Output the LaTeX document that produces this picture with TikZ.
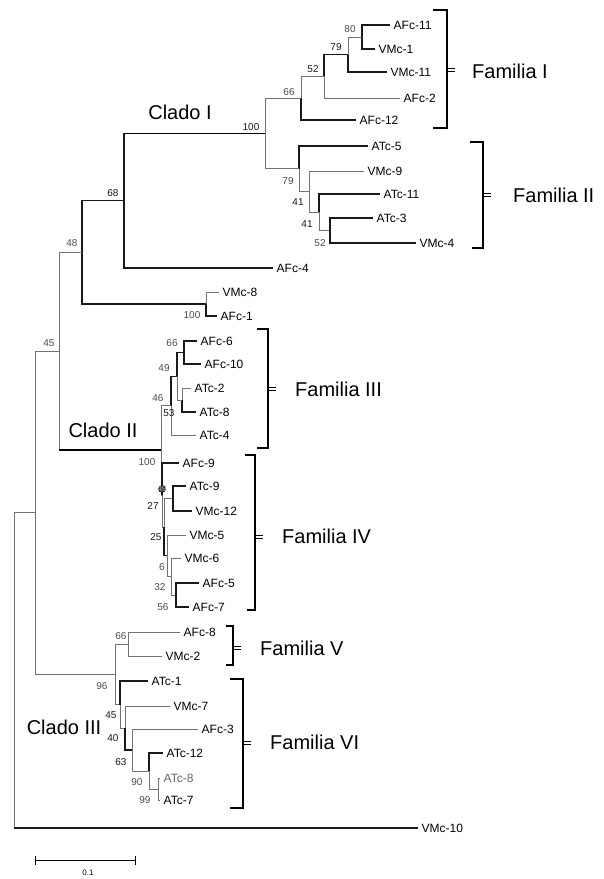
\documentclass[tikz,border=0pt]{standalone}
\usepackage{fontspec}
\setmainfont{Liberation Sans}
\begin{document}
\begin{tikzpicture}[x=1pt,y=-1pt,
  br/.style={draw=black!55, line width=0.8pt},
  bk/.style={draw=black!90, line width=1.1pt},
  cl/.style={draw=black, line width=1.8pt},
  leaf/.style={anchor=west, inner xsep=3.5pt, inner ysep=1pt, font=\fontsize{12}{12}\selectfont},
  leafg/.style={leaf, text=black!60},
  bs/.style={font=\fontsize{10}{10}\selectfont, text=black!70, inner sep=0pt},
  bsd/.style={bs, text=black!90},
  fam/.style={anchor=west, font=\fontsize{20}{20}\selectfont, inner sep=0pt},
  clado/.style={font=\fontsize{20}{20}\selectfont, inner sep=0pt},
  brk/.style={draw=black, line width=2.4pt, line cap=butt, line join=miter},
  dtick/.style={draw=black, line width=0.8pt}
]
\useasboundingbox (0,0) rectangle (604,879);
\fill[white] (0,0) rectangle (604,879);

% ---------- internal nodes ----------
\coordinate (n80)  at (362,37);
\coordinate (n79)  at (348,54.5);
\coordinate (n52)  at (324,76.3);
\coordinate (n66)  at (301,98.1);
\coordinate (n52b) at (330,230.5);
\coordinate (n41b) at (319,212.3);
\coordinate (n41a) at (309,191.6);
\coordinate (n79b) at (299,168.8);
\coordinate (nCI)  at (265,133.5);
\coordinate (nD)   at (124,200.7);
\coordinate (nE)   at (206,304);
\coordinate (nC)   at (82,252.3);
\coordinate (n66c) at (184,352.5);
\coordinate (nT)   at (182,400);
\coordinate (n49)  at (177,376.3);
\coordinate (n53)  at (171,405.6);
\coordinate (nAV)  at (173,498.5);
\coordinate (n56)  at (176,595);
\coordinate (n6)   at (171,576.5);
\coordinate (n25)  at (167,555.8);
\coordinate (n27)  at (164,527);
\coordinate (n49c) at (162,495);
\coordinate (nCII) at (161,450.3);
\coordinate (nB)   at (59,351.3);
\coordinate (n66d) at (128,644);
\coordinate (n99)  at (158,789);
\coordinate (n90)  at (149,771);
\coordinate (n63)  at (132,750);
\coordinate (n40)  at (125,728);
\coordinate (n45)  at (120,704.5);
\coordinate (n96)  at (115,674.3);
\coordinate (nA)   at (35,512.8);
\coordinate (root) at (14,670.4);

% ---------- leaves ----------
\node[leaf] (AFc11) at (390,25) {AFc-11};
\node[leaf] (VMc1) at (375,49) {VMc-1};
\node[leaf] (VMc11) at (387,72) {VMc-11};
\node[leaf] (AFc2) at (400,98) {AFc-2};
\node[leaf] (AFc12) at (356,120) {AFc-12};
\node[leaf] (ATc5) at (368,146) {ATc-5};
\node[leaf] (VMc9) at (364,171) {VMc-9};
\node[leaf] (ATc11) at (380,194) {ATc-11};
\node[leaf] (ATc3) at (373,218) {ATc-3};
\node[leaf] (VMc4) at (416,243) {VMc-4};
\node[leaf] (AFc4) at (273,268) {AFc-4};
\node[leaf] (VMc8) at (219,292) {VMc-8};
\node[leaf] (AFc1) at (217,316) {AFc-1};
\node[leaf] (AFc6) at (197,341) {AFc-6};
\node[leaf] (AFc10) at (201,364) {AFc-10};
\node[leaf] (ATc2) at (191,388) {ATc-2};
\node[leaf] (ATc8a) at (196,412) {ATc-8};
\node[leaf] (ATc4) at (196,435) {ATc-4};
\node[leaf] (AFc9) at (179,463) {AFc-9};
\node[leaf] (ATc9) at (186,486) {ATc-9};
\node[leaf] (VMc12) at (192,511) {VMc-12};
\node[leaf] (VMc5) at (186,535) {VMc-5};
\node[leaf] (VMc6) at (181,558) {VMc-6};
\node[leaf] (AFc5) at (199,583) {AFc-5};
\node[leaf] (AFc7) at (189,607) {AFc-7};
\node[leaf] (AFc8) at (180,632) {AFc-8};
\node[leaf] (VMc2) at (162,656) {VMc-2};
\node[leaf] (ATc1) at (148,681) {ATc-1};
\node[leaf] (VMc7) at (170,706) {VMc-7};
\node[leaf] (AFc3) at (198,729) {AFc-3};
\node[leaf] (ATc12) at (163,753) {ATc-12};
\node[leafg] (ATc8b) at (160,778) {ATc-8};
\node[leaf] (ATc7) at (160,800) {ATc-7};
\node[leaf] (VMc10) at (418,828) {VMc-10};

% ---------- branches ----------
% Familia I
\draw[bk] (n80) |- (AFc11.west);
\draw[bk] (n80) |- (VMc1.west);
\draw[br] (n79) |- (n80);
\draw[bk] (n79) |- (VMc11.west);
\draw[bk] (n52) |- (n79);
\draw[br] (n52) |- (AFc2.west);
\draw[br] (n66) |- (n52);
\draw[bk] (n66) |- (AFc12.west);
% Familia II
\draw[bk] (n79b) |- (ATc5.west);
\draw[br] (n79b) |- (n41a);
\draw[br] (n41a) |- (VMc9.west);
\draw[br] (n41a) |- (n41b);
\draw[bk] (n41b) |- (ATc11.west);
\draw[br] (n41b) |- (n52b);
\draw[bk] (n52b) |- (ATc3.west);
\draw[bk] (n52b) |- (VMc4.west);
% Clado I
\draw[br] (nCI) |- (n66);
\draw[br] (nCI) |- (n79b);
\draw[bk] (nD) |- (nCI);
\draw[cl] (nD |- nCI) -- (nCI);
\draw[bk] (nD) |- (AFc4.west);
\draw[bk] (nC) |- (nD);
\draw[bk] (nC) |- (nE);
\draw[br] (nE) |- (VMc8.west);
\draw[bk] (nE) |- (AFc1.west);
\draw[br] (nB) |- (nC);
\draw[br] (nB) |- (nCII);
\draw[cl] (nB |- nCII) -- (nCII);
% Familia III
\draw[bk] (n66c) |- (AFc6.west);
\draw[bk] (n66c) |- (AFc10.west);
\draw[br] (nT) |- (ATc2.west);
\draw[bk] (nT) |- (ATc8a.west);
\draw[bk] (n49) |- (n66c);
\draw[br] (n49) |- (nT);
\draw[bk] (n53) |- (n49);
\draw[br] (n53) |- (ATc4.west);
\draw[br] (nCII) |- (n53);
\draw[br] (nCII) |- (n49c);
% Familia IV
\draw[bk] (n49c) |- (AFc9.west);
\draw[br] (n49c) |- (n27);
\draw[br] (n27) |- (nAV);
\draw[bk] (n27) |- (n25);
\draw[bk] (nAV) |- (ATc9.west);
\draw[bk] (nAV) |- (VMc12.west);
\draw[br] (n25) |- (VMc5.west);
\draw[br] (n25) |- (n6);
\draw[br] (n6) |- (VMc6.west);
\draw[br] (n6) |- (n56);
\draw[bk] (n56) |- (AFc5.west);
\draw[bk] (n56) |- (AFc7.west);
% Familia V / VI
\draw[br] (n66d) |- (AFc8.west);
\draw[br] (n66d) |- (VMc2.west);
\draw[br] (n96) |- (n66d);
\draw[br] (n96) |- (n45);
\draw[bk] (n45) |- (ATc1.west);
\draw[br] (n45) |- (n40);
\draw[br] (n40) |- (VMc7.west);
\draw[bk] (n40) |- (n63);
\draw[br] (n63) |- (AFc3.west);
\draw[br] (n63) |- (n90);
\draw[bk] (n90) |- (ATc12.west);
\draw[br] (n90) |- (n99);
\draw[br] (n99) |- (ATc8b.west);
\draw[br] (n99) |- (ATc7.west);
% basal
\draw[br] (nA) |- (nB);
\draw[br] (nA) |- (n96);
\draw[br] (root) |- (nA);
\draw[br] (root) |- (VMc10.west);
\draw[bk] (root |- VMc10.west) -- (VMc10.west);

% ---------- bootstrap values ----------
\node[bs]  (b80a) at (350,29) {80};
\node[bsd] (b79a) at (336,47) {79};
\node[bsd] (b52a) at (313,69) {52};
\node[bs]  (b66a) at (289,92) {66};
\node[bsd] (b100a) at (251,127) {100};
\node[bs]  (b79b) at (288,181) {79};
\node[bsd] (b41a) at (298,202) {41};
\node[bsd] (b41b) at (307,224) {41};
\node[bs]  (b52b) at (320,243) {52};
\node[bsd] (b68) at (113,193) {68};
\node[bs]  (b48) at (72,243) {48};
\node[bs]  (b45a) at (49,343) {45};
\node[bs]  (b100b) at (192,315) {100};
\node[bs]  (b66b) at (172,343) {66};
\node[bs]  (b49a) at (164,368) {49};
\node[bs]  (b46) at (158,398) {46};
\node[bsd] (b53) at (169,413) {53};
\node[bs]  (b100c) at (147,462) {100};
\node[circle, fill=black!75, draw=black, inner sep=0pt, minimum size=7pt] (mk) at (162,489) {};
\node[bs, text=black!40, font=\fontsize{8}{8}\selectfont] (b49b) at (162,489) {49};
\node[bsd] (b27) at (153,506) {27};
\node[bsd] (b25) at (156,537) {25};
\node[bs]  (b6) at (162,567) {6};
\node[bs]  (b32) at (160,587) {32};
\node[bs]  (b56) at (163,607) {56};
\node[bs]  (b66c) at (121,636) {66};
\node[bs]  (b96) at (102,686) {96};
\node[bsd] (b45b) at (111,715) {45};
\node[bsd] (b40) at (113,738) {40};
\node[bsd] (b63) at (121,762) {63};
\node[bs]  (b90) at (137,782) {90};
\node[bs]  (b99) at (145,800) {99};

% ---------- clade labels ----------
\node[clado] (cI) at (180,112) {Clado I};
\node[clado] (cII) at (103,430) {Clado II};
\node[clado] (cIII) at (64,727) {Clado III};

% ---------- family brackets ----------
\draw[brk] (433,10) -- (447,10) -- (447,128) -- (433,128);
\draw[dtick] (447,68.5) -- (455,68.5) (447,71.5) -- (455,71.5);
\node[fam] (fI) at (472,71) {Familia I};

\draw[brk] (470,142) -- (483,142) -- (483,248) -- (472,248);
\draw[dtick] (483,193.5) -- (491,193.5) (483,196.5) -- (491,196.5);
\node[fam] (fII) at (513,195) {Familia II};

\draw[brk] (257,329) -- (268,329) -- (268,448) -- (257,448);
\draw[dtick] (268,387.5) -- (276,387.5) (268,390.5) -- (276,390.5);
\node[fam] (fIII) at (295,389) {Familia III};

\draw[brk] (245,455) -- (255,455) -- (255,610) -- (247,610);
\draw[dtick] (255,535.5) -- (263,535.5) (255,538.5) -- (263,538.5);
\node[fam] (fIV) at (282,536) {Familia IV};

\draw[brk] (226,626) -- (233,626) -- (233,665) -- (226,665);
\draw[dtick] (233,646.5) -- (241,646.5) (233,649.5) -- (241,649.5);
\node[fam] (fV) at (260,648) {Familia V};

\draw[brk] (230,679) -- (243,679) -- (243,808) -- (230,808);
\draw[dtick] (243,741.5) -- (251,741.5) (243,744.5) -- (251,744.5);
\node[fam] (fVI) at (270,742) {Familia VI};

% ---------- scale bar ----------
\coordinate (sb1) at (35,860);
\coordinate (sb2) at (135,860);
\draw[black, line width=0.9pt] (sb1) -- (sb2);
\draw[black, line width=0.9pt] ([yshift=4.5pt]sb1) -- ([yshift=-4.5pt]sb1);
\draw[black, line width=0.9pt] ([yshift=4.5pt]sb2) -- ([yshift=-4.5pt]sb2);
\node[font=\fontsize{8}{8}\selectfont, inner sep=0pt] (sbl) at (88,873) {0.1};
\end{tikzpicture}
\end{document}
